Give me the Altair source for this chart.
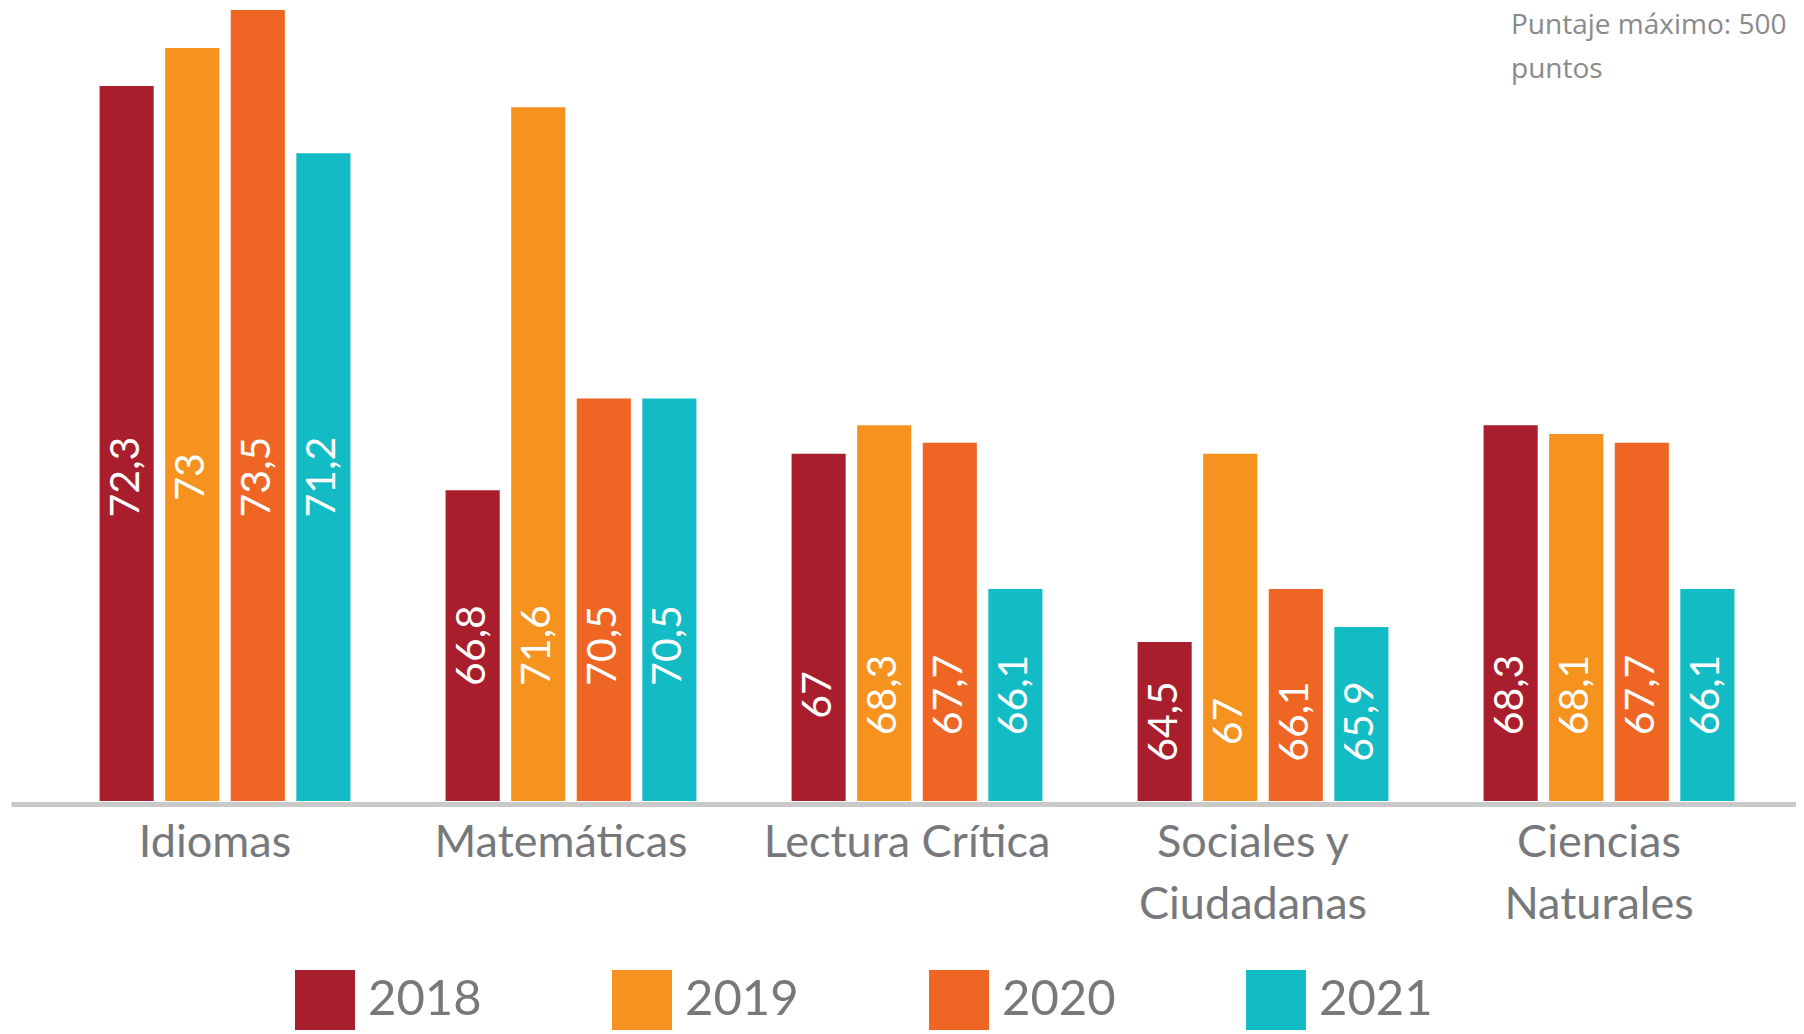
import altair as alt
import pandas as pd

categorias = ["Idiomas", "Matemáticas", "Lectura Crítica", "Sociales y\nCiudadanas", "Ciencias\nNaturales"]
anios = ["2018", "2019", "2020", "2021"]

# Printed scores (labels on the bars)
puntaje_2018 = [72.3, 66.8, 67.0, 64.5, 68.3]
puntaje_2019 = [73.0, 71.6, 68.3, 67.0, 68.1]
puntaje_2020 = [73.5, 70.5, 67.7, 66.1, 67.7]
puntaje_2021 = [71.2, 70.5, 66.1, 65.9, 66.1]

# Bar heights as drawn in the source picture (% of the tallest bar)
altura_2018 = [90.4, 39.3, 43.9, 20.1, 47.5]
altura_2019 = [95.2, 87.7, 47.5, 43.9, 46.4]
altura_2020 = [100.0, 50.9, 45.3, 26.8, 45.3]
altura_2021 = [81.9, 50.9, 26.8, 22.0, 26.8]

colores = ["#a91e2d", "#f6921e", "#ee6524", "#13bbc4"]
nota = "Puntaje máximo: 500\npuntos"

FONT = "Lato, sans-serif"
GRIS = "#77787b"

puntajes = [puntaje_2018, puntaje_2019, puntaje_2020, puntaje_2021]
alturas = [altura_2018, altura_2019, altura_2020, altura_2021]
rows = []
for i, c in enumerate(categorias):
    for j, a in enumerate(anios):
        rows.append({"categoria": c, "anio": a, "puntaje": puntajes[j][i], "altura": alturas[j][i]})
df = pd.DataFrame(rows)

x_enc = alt.X(
    "categoria:N",
    sort=categorias,
    title=None,
    scale=alt.Scale(paddingInner=0.275, paddingOuter=0.217, align=0.59),
    axis=alt.Axis(
        labelAngle=0,
        labelExpr="split(datum.label, '\\n')",
        labelFont=FONT,
        labelFontSize=45,
        labelColor=GRIS,
        labelLineHeight=62,
        labelPadding=16,
        labelOffset=-10,
        labelLimit=600,
        ticks=False,
        tickSize=0,
        domainColor="#c9c9c9",
        domainWidth=5,
        offset=3,
    ),
)
xo_enc = alt.XOffset("anio:N", sort=anios, scale=alt.Scale(paddingInner=0.175, paddingOuter=0))
y_scale = alt.Scale(domain=[0, 100], nice=False, zero=True)

base = alt.Chart(df).encode(x=x_enc, xOffset=xo_enc)

bars = base.mark_bar().encode(
    y=alt.Y("altura:Q", scale=y_scale, axis=None),
    color=alt.Color(
        "anio:N",
        sort=anios,
        scale=alt.Scale(domain=anios, range=colores),
        legend=alt.Legend(
            title=None,
            orient="none",
            legendX=284,
            legendY=960,
            direction="horizontal",
            symbolType="square",
            symbolSize=3600,
            symbolStrokeWidth=0,
            labelFont=FONT,
            labelFontSize=49,
            labelColor=GRIS,
            labelOffset=13,
            labelLimit=400,
            columnPadding=130,
            padding=0,
        ),
    ),
)

labels = base.mark_text(
    angle=270, color="white", font=FONT, fontSize=41, align="center", baseline="middle"
).encode(
    y=alt.Y("mid:Q", scale=y_scale, axis=None),
    text="label:N",
).transform_joinaggregate(
    min_h="min(altura)", groupby=["categoria"]
).transform_calculate(
    mid="datum.min_h / 2",
    label="replace(toString(datum.puntaje), '.', ',')",
)

note = alt.Chart(pd.DataFrame({"nota": [nota]})).mark_text(
    align="left", baseline="top", font="Open Sans", fontSize=28, color="#8a8a8c", lineBreak="\n", lineHeight=44
).encode(x=alt.value(1500), y=alt.value(2), text="nota:N")

chart = alt.layer(bars, labels, note).properties(
    width=1785,
    height=791,
    padding={"left": 3, "top": 2, "right": 0, "bottom": 0},
).configure_view(strokeWidth=0)

chart.save("out.html", embed_options={"renderer": "svg", "actions": False})
